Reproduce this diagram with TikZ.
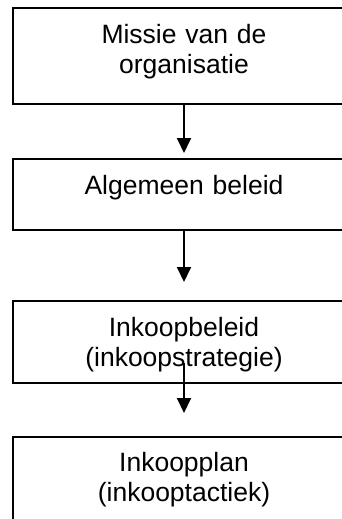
\documentclass[tikz,border=0pt]{standalone}
\usepackage{fontspec}
\setmainfont{Liberation Sans}
\usepackage{tikz}
\usetikzlibrary{arrows.meta}
\usetikzlibrary{positioning}
\usetikzlibrary{calc}

\begin{document}
\begin{tikzpicture}[x=1pt, y=-1pt,
    stapbox/.style={draw, line width=2.2pt, anchor=north, minimum width=342pt,
      inner ysep=0pt, align=center, text width=320pt,
      font=\fontsize{26.5pt}{30pt}\selectfont},
    pijl/.style={line width=2pt, -{Triangle[length=15pt, width=14pt]}}]
  \clip (0, 0) rectangle (342, 519);
  \fill[white] (0, 0) rectangle (342, 519);
  % de vier stappen
  \node[stapbox, text height=35pt, text depth=61pt] (missie) at (184, 7)
    {Missie van de\\organisatie};
  \node[stapbox, text height=35pt, text depth=36pt] (beleid) at (184, 158)
    {Algemeen beleid};
  \node[stapbox, text height=35pt, text depth=47pt] (strategie) at (184, 300)
    {Inkoopbeleid\\(inkoopstrategie)};
  \node[stapbox, text height=34pt, text depth=70pt] (tactiek) at (184, 436)
    {Inkoopplan\\(inkooptactiek)};
  % pijlen
  \draw[pijl] (missie.south) -- ([yshift=5pt]beleid.north);
  \draw[pijl] (beleid.south) -- ([yshift=18pt]strategie.north);
  \draw[pijl] ([yshift=21pt]strategie.south) -- ([yshift=23pt]tactiek.north);
\end{tikzpicture}
\end{document}
